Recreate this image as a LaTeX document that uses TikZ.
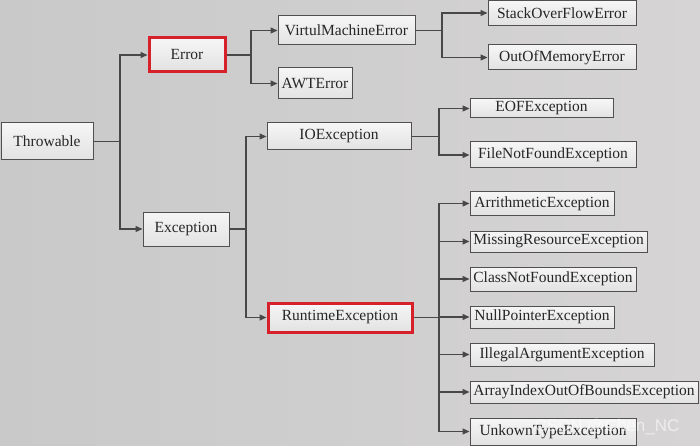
\documentclass[tikz,border=0pt]{standalone}
\usepackage{fontspec}
\setmainfont{Liberation Serif}
\newfontfamily\wmfont{Liberation Sans}
\usetikzlibrary{arrows.meta}
\definecolor{bgc}{RGB}{201,201,201}
\definecolor{bgl}{RGB}{214,212,212}
\definecolor{bord}{RGB}{80,80,80}
\definecolor{redb}{RGB}{214,32,42}
\definecolor{linec}{RGB}{72,72,72}
\definecolor{boxtop}{RGB}{246,246,246}
\definecolor{boxbot}{RGB}{226,226,226}
\tikzset{
  cls/.style={rectangle, draw=bord, line width=1pt, top color=boxtop, bottom color=boxbot,
    inner sep=0pt, font=\fontsize{15.5}{18}\selectfont, text=black!85},
  hl/.style={cls, draw=redb, line width=3pt},
  arr/.style={draw=linec, line width=1.3pt, -{Triangle[length=7pt,width=6pt]}},
  ln/.style={draw=linec, line width=1.3pt}
}
\begin{document}
\begin{tikzpicture}[x=1pt,y=-1pt]
\useasboundingbox (0,0) rectangle (700,446);
\shade[left color=bgc, right color=bgl] (0,0) rectangle (700,446);
% nodes
\node[cls, minimum width=92pt, minimum height=37pt] (thr) at (47,141.5) {Throwable};
\node[hl, minimum width=76pt, minimum height=34pt] (err) at (187,55) {Error};
\node[cls, minimum width=86pt, minimum height=34pt] (exc) at (186,229) {Exception};
\node[cls, minimum width=137pt, minimum height=29pt] (vme) at (346.5,30.5) {VirtulMachineError};
\node[cls, minimum width=74pt, minimum height=31pt] (awt) at (315,83.5) {AWTError};
\node[cls, minimum width=144pt, minimum height=27pt] (io) at (339,136.5) {IOException};
\node[hl, minimum width=144pt, minimum height=29pt] (rt) at (340,317.5) {RuntimeException};
\node[cls, minimum width=148pt, minimum height=25pt] (sof) at (562,13) {StackOverFlowError};
\node[cls, minimum width=148pt, minimum height=25pt] (oom) at (562,57.5) {OutOfMemoryError};
\node[cls, minimum width=143pt, minimum height=19pt] (eof) at (541.5,108.5) {EOFException};
\node[cls, minimum width=166pt, minimum height=26pt] (fnf) at (553,155) {FileNotFoundException};
\node[cls, minimum width=144pt, minimum height=23pt] (ari) at (542,203.5) {ArrithmeticException};
\node[cls, minimum width=177pt, minimum height=21pt] (mis) at (558.5,241.5) {MissingResourceException};
\node[cls, minimum width=166pt, minimum height=24pt] (cnf) at (553,279) {ClassNotFoundException};
\node[cls, minimum width=144pt, minimum height=22pt] (npe) at (542,317) {NullPointerException};
\node[cls, minimum width=184pt, minimum height=23pt] (iae) at (562,354.5) {IllegalArgumentException};
\node[cls, minimum width=228pt, minimum height=22pt] (aio) at (584,392) {ArrayIndexOutOfBoundsException};
\node[cls, minimum width=166pt, minimum height=27pt] (ute) at (553,431.5) {UnkownTypeException};
% connectors
\coordinate (b1) at (120,141.5);
\coordinate (b2) at (251,55);
\coordinate (b3) at (442,30.5);
\coordinate (b4) at (246,229);
\coordinate (b5) at (439,136.5);
\coordinate (b6) at (439,317.5);
\draw[ln] (thr.east) -- (b1);
\draw[arr] (b1) |- (err.west);
\draw[arr] (b1) |- (exc.west);
\draw[ln] (err.east) -- (b2);
\draw[arr] (b2) |- (vme.west);
\draw[arr] (b2) |- (awt.west);
\draw[ln] (vme.east) -- (b3);
\draw[arr] (b3) |- (sof.west);
\draw[arr] (b3) |- (oom.west);
\draw[ln] (exc.east) -- (b4);
\draw[arr] (b4) |- (io.west);
\draw[arr] (b4) |- (rt.west);
\draw[ln] (io.east) -- (b5);
\draw[arr] (b5) |- (eof.west);
\draw[arr] (b5) |- (fnf.west);
\draw[ln] (rt.east) -- (b6);
\foreach \t in {ari,mis,cnf,npe,iae,aio,ute}{
  \draw[arr] (b6) |- (\t.west);
}
% watermark
\node[text=white, opacity=0.6, font=\wmfont\fontsize{17}{20}\selectfont, inner sep=0pt] (wm) at (607,427) {CSDN @Chen\_NC};
\end{tikzpicture}
\end{document}
